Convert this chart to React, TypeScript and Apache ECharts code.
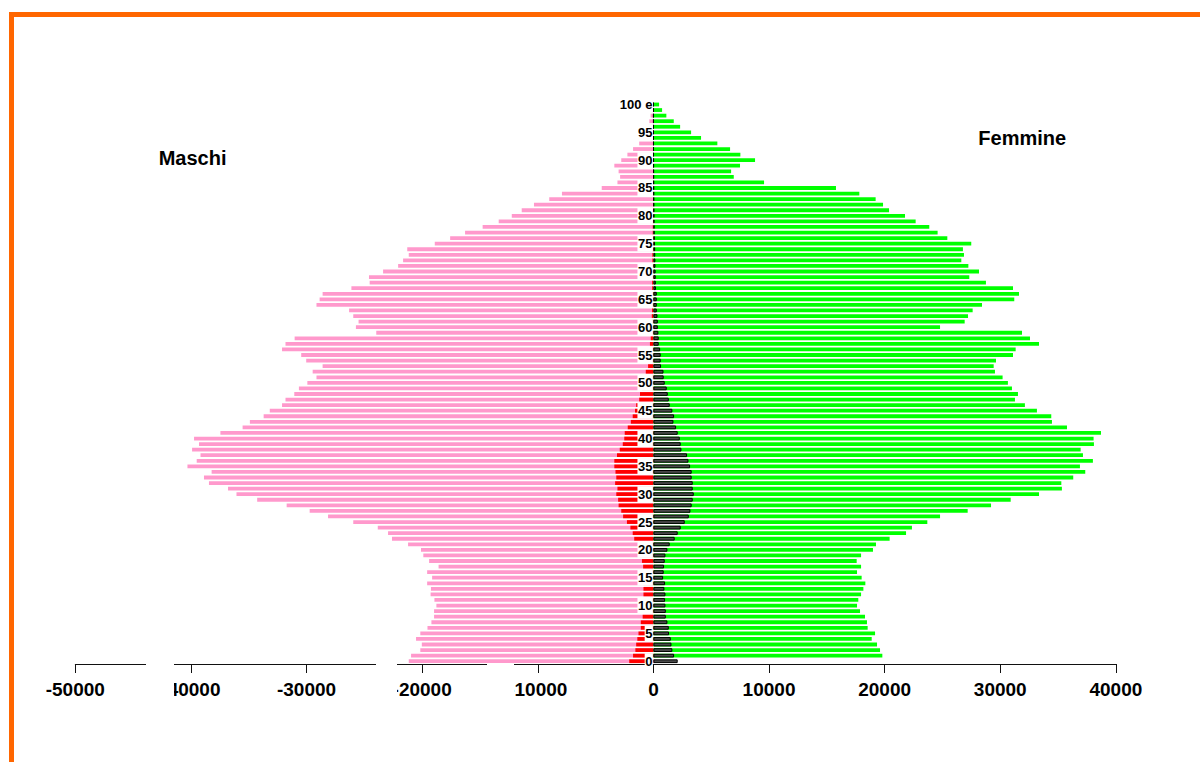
import React, { useEffect, useRef } from "react";
import * as echarts from "echarts";

const FONT = "'Liberation Sans', Arial, Helvetica, sans-serif";

// age classes 0 .. 99 and the open class "100 e"
const ages: string[] = Array.from({ length: 100 }, (_, i) => String(i)).concat(["100 e"]);

// Maschi (totale), index = age
const male = [
  21160, 20960, 20160, 20030, 20530, 20160, 19540, 19200, 18970, 18970,
  18770, 18940, 19270, 19240, 19570, 19140, 19570, 18580, 19400, 19900,
  20100, 21220, 22610, 22950, 23840, 25960, 28140, 29730, 31720, 34270,
  36060, 36790, 38440, 38870, 38210, 40300, 39500, 39170, 39900, 39300,
  39730, 37450, 35530, 34900, 33710, 33180, 32120, 31820, 31060, 30660,
  29930, 29140, 29470, 28610, 30030, 30460, 32120, 31820, 31030, 23970,
  25730, 25500, 25960, 26320, 29140, 28870, 28610, 26120, 24540, 24600,
  23380, 22080, 21650, 21160, 21290, 18910, 17580, 16290, 14770, 13380,
  12250, 11390, 10330, 9010, 7910, 4470, 3110, 2880, 3010, 3380,
  2780, 2250, 1760, 1230, 900, 650, 450, 350, 240, 100,
  80,
];

// Maschi stranieri
const maleForeign = [
  2090, 1760, 1560, 1490, 1390, 1290, 1090, 1090, 930, 900,
  880, 870, 860, 860, 850, 850, 860, 890, 990, 1150,
  1250, 1300, 1660, 1790, 1990, 2290, 2620, 2780, 3010, 3050,
  3210, 3110, 3310, 3210, 3280, 3380, 3380, 3150, 2910, 2650,
  2520, 2480, 2220, 1950, 1790, 1590, 1490, 1230, 1160, 1000,
  850, 750, 660, 460, 380, 350, 300, 300, 230, 200,
  170, 150, 140, 120, 120, 120, 110, 110, 110, 100,
  100, 100, 90, 90, 80, 80, 70, 60, 55, 50,
  45, 40, 35, 30, 25, 20, 18, 15, 12, 10,
  8, 6, 5, 4, 3, 2, 2, 1, 1, 0,
  0,
];

// Femmine (totale)
const female = [
  0, 19800, 19600, 19340, 18880, 19170, 18530, 18470, 18300, 17870,
  17610, 17720, 17960, 18160, 18330, 18010, 17610, 17960, 17580, 17960,
  18990, 19250, 20430, 21850, 22360, 23690, 24790, 27180, 29200, 30900,
  33350, 35330, 35280, 36310, 37350, 36890, 38010, 37150, 36950, 38100,
  38070, 38710, 35770, 34470, 34410, 33170, 32130, 31270, 31530, 31010,
  30660, 30200, 29540, 29430, 29630, 31100, 31330, 33350, 32570, 31880,
  24790, 26920, 27210, 27610, 28420, 31210, 31620, 31100, 28760, 27320,
  28160, 27240, 26630, 26860, 26770, 27490, 25420, 24580, 23860, 22680,
  21760, 20380, 19860, 19220, 17810, 15790, 9570, 6950, 6720, 7490,
  8790, 7520, 6630, 5530, 4120, 3260, 2310, 1760, 1120, 750,
  490,
];

// Femmine straniere
const femaleForeign = [
  2100, 1790, 1640, 1560, 1500, 1350, 1330, 1210, 1070, 1070,
  1040, 1010, 1040, 950, 1010, 840, 890, 920, 980, 1040,
  1210, 1410, 1840, 2100, 2360, 2710, 3060, 3200, 3310, 3400,
  3490, 3400, 3400, 3310, 3310, 3170, 3030, 2910, 2420, 2360,
  2280, 2100, 1960, 1730, 1790, 1640, 1410, 1330, 1240, 1150,
  980, 890, 870, 660, 630, 630, 580, 460, 460, 430,
  380, 380, 350, 290, 290, 290, 290, 220, 210, 200,
  190, 180, 170, 160, 150, 140, 120, 110, 100, 90,
  80, 70, 60, 55, 50, 45, 40, 35, 30, 28,
  25, 20, 15, 12, 10, 8, 6, 5, 4, 3,
  2,
];

const xMin = -50000;
const xMax = 40000;
const xStep = 10000;

const GRID_LEFT = 75.3;
const GRID_RIGHT = 84.1;
const PLOT_W = 1200 - GRID_LEFT - GRID_RIGHT;
// distance from the grid's left edge to the zero of the value axis
const ZERO_OFFSET = (PLOT_W * (0 - xMin)) / (xMax - xMin);

export default function App() {
  const ref = useRef<HTMLDivElement>(null);

  useEffect(() => {
    if (!ref.current) return;
    const chart = echarts.init(ref.current, null, { renderer: "svg" });

    const barCommon = {
      type: "bar" as const,
      barWidth: "68%",
      barGap: "-100%",
      silent: true,
    };

    chart.setOption({
      animation: false,
      backgroundColor: "#ffffff",
      grid: {
        left: GRID_LEFT,
        right: GRID_RIGHT,
        top: 101.7,
        bottom: 98,
        containLabel: false,
      },
      xAxis: {
        type: "value",
        min: xMin,
        max: xMax,
        interval: xStep,
        splitLine: { show: false },
        axisLine: { show: true, lineStyle: { color: "#111", width: 1 } },
        axisTick: { show: true, length: 9, lineStyle: { color: "#111", width: 1 } },
        axisLabel: {
          margin: 16,
          fontSize: 19,
          fontWeight: "bold",
          fontFamily: FONT,
          color: "#000",
          formatter: (v: number) => String(v),
        },
      },
      yAxis: {
        type: "category",
        data: ages,
        z: 10,
        position: "left",
        offset: -ZERO_OFFSET,
        axisLine: { show: false, onZero: false },
        axisTick: { show: false },
        splitLine: { show: false },
        axisLabel: {
          interval: 4,
          margin: 0.5,
          fontSize: 13,
          fontWeight: "bold",
          fontFamily: FONT,
          color: "#000",
          backgroundColor: "#ffffff",
          lineHeight: 16,
          padding: [0, 0.5, 0, 0.5],
        },
      },
      series: [
        {
          ...barCommon,
          name: "Maschi",
          data: male.map((v) => -v),
          itemStyle: { color: "#FF99CC" },
        },
        {
          ...barCommon,
          name: "Femmine",
          data: female,
          itemStyle: { color: "#00FF00" },
        },
        {
          ...barCommon,
          name: "Maschi stranieri",
          data: maleForeign.map((v) => -v),
          itemStyle: { color: "#FF0000" },
        },
        {
          ...barCommon,
          name: "Femmine straniere",
          data: femaleForeign,
          itemStyle: { color: "#4a4a4a", borderColor: "#000000", borderWidth: 1 },
        },
      ],
      graphic: [
        // orange frame (top and left edges)
        { type: "rect", z: 100, shape: { x: 9, y: 12, width: 1191, height: 5 }, style: { fill: "#FF6600" } },
        { type: "rect", z: 100, shape: { x: 9, y: 12, width: 5, height: 750 }, style: { fill: "#FF6600" } },
        // white patches over the axis, as in the original
        { type: "rect", z: 100, shape: { x: 146, y: 664, width: 28, height: 40 }, style: { fill: "#ffffff" } },
        { type: "rect", z: 100, shape: { x: 376, y: 664, width: 21, height: 40 }, style: { fill: "#ffffff" } },
        { type: "rect", z: 100, shape: { x: 487, y: 664, width: 27, height: 40 }, style: { fill: "#ffffff" } },
        {
          type: "text",
          z: 100,
          x: 158.7,
          y: 158,
          style: {
            text: "Maschi",
            fontSize: 20,
            fontWeight: "bold",
            fontFamily: FONT,
            fill: "#000",
            textAlign: "left",
            textVerticalAlign: "middle",
          },
        },
        {
          type: "text",
          z: 100,
          x: 978.3,
          y: 138,
          style: {
            text: "Femmine",
            fontSize: 20,
            fontWeight: "bold",
            fontFamily: FONT,
            fill: "#000",
            textAlign: "left",
            textVerticalAlign: "middle",
          },
        },
      ],
    });

    return () => chart.dispose();
  }, []);

  return (
    <div
      ref={ref}
      style={{ position: "absolute", left: 0, top: 0, width: 1200, height: 762, background: "#fff" }}
    />
  );
}
